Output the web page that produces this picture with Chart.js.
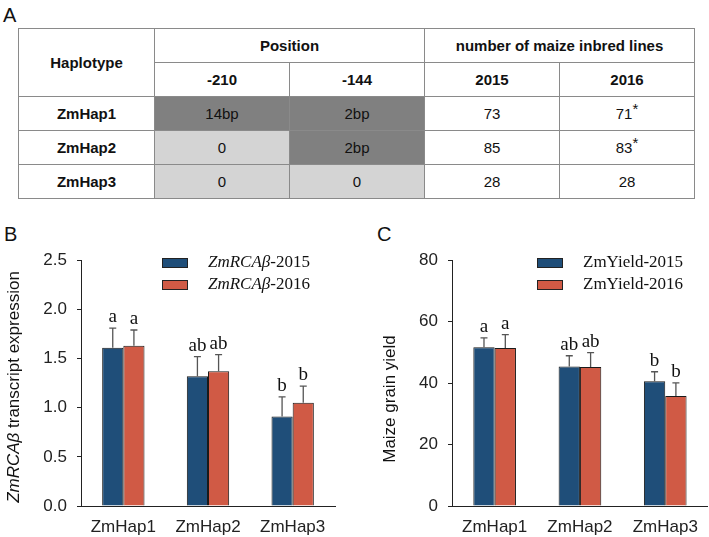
<!DOCTYPE html>
<html>
<head>
<meta charset="utf-8">
<script src="https://cdn.jsdelivr.net/npm/chart.js@4.4.0/dist/chart.umd.min.js"></script>
<style>
  body { margin: 0; background: #fff; width: 709px; height: 537px; position: relative; overflow: hidden;
         font-family: "Liberation Sans", Arial, sans-serif; color: #111; }
  .panel { position: absolute; font-size: 20px; line-height: 20px; }
  #tbl { position: absolute; left: 18px; top: 28px; border-collapse: collapse; table-layout: fixed; }
  #tbl td { border: 1px solid #8a8a8a; text-align: center; font-size: 15px; height: 33px; padding: 0; }
  #tbl td.b { font-weight: bold; }
  #tbl td.dark { background: #808080; }
  #tbl td.light { background: #d4d4d4; }
  #tbl sup { font-size: 15px; line-height: 0; vertical-align: 5px; }
  canvas { position: absolute; }
</style>
</head>
<body>
<div class="panel" style="left:3px;top:5px;">A</div>
<div class="panel" style="left:4px;top:224px;">B</div>
<div class="panel" style="left:377px;top:224px;">C</div>
<table id="tbl"></table>
<canvas id="exprChart" width="355" height="297" style="left:0;top:240px;width:355px;height:297px;"></canvas>
<canvas id="yieldChart" width="354" height="297" style="left:355px;top:240px;width:354px;height:297px;"></canvas>
<script>
// ---------- panel A table ----------
const haplotypes = ['ZmHap1', 'ZmHap2', 'ZmHap3'];
const pos210 = ['14bp', '0', '0'];
const pos144 = ['2bp', '2bp', '0'];
const lines2015 = ['73', '85', '28'];
const lines2016 = ['71', '83', '28'];
const star2016 = [true, true, false];

// ---------- panel B / C data ----------
const expr2015 = [1.61, 1.32, 0.91];
const exprErr2015 = [0.20, 0.20, 0.20];
const expr2016 = [1.63, 1.37, 1.05];
const exprErr2016 = [0.16, 0.17, 0.17];
const exprLetters2015 = ['a', 'ab', 'b'];
const exprLetters2016 = ['a', 'ab', 'b'];

const yield2015 = [51.7, 45.4, 40.6];
const yieldErr2015 = [3.0, 3.5, 3.1];
const yield2016 = [51.4, 45.2, 35.8];
const yieldErr2016 = [4.4, 4.7, 4.3];
const yieldLetters2015 = ['a', 'ab', 'b'];
const yieldLetters2016 = ['a', 'ab', 'b'];

const BLUE = '#1f4e79';
const RED = '#d05a45';

function buildTable() {
  const t = document.getElementById('tbl');
  let html = '<colgroup><col style="width:136px"><col style="width:135px"><col style="width:135px"><col style="width:135px"><col style="width:135px"></colgroup>';
  html += '<tr><td class="b" rowspan="2">Haplotype</td><td class="b" colspan="2">Position</td><td class="b" colspan="2">number of maize inbred lines</td></tr>';
  html += '<tr><td class="b">-210</td><td class="b">-144</td><td class="b">2015</td><td class="b">2016</td></tr>';
  haplotypes.forEach((h, i) => {
    const c1 = pos210[i] === '0' ? 'light' : 'dark';
    const c2 = pos144[i] === '0' ? 'light' : 'dark';
    html += '<tr><td class="b">' + h + '</td><td class="' + c1 + '">' + pos210[i] + '</td><td class="' + c2 + '">' + pos144[i] +
      '</td><td>' + lines2015[i] + '</td><td>' + lines2016[i] + (star2016[i] ? '<sup>*</sup>' : '') + '</td></tr>';
  });
  t.innerHTML = html;
}
buildTable();

// error bars, letters, legend and mixed-style y title
const decorPlugin = {
  id: 'decor',
  afterDatasetsDraw(chart, args, opts) {
    const ctx = chart.ctx;
    const y = chart.scales.y;
    ctx.save();
    chart.data.datasets.forEach((ds, di) => {
      const meta = chart.getDatasetMeta(di);
      meta.data.forEach((bar, i) => {
        const top = y.getPixelForValue(ds.data[i]);
        const errTop = y.getPixelForValue(ds.data[i] + ds.errors[i]);
        ctx.strokeStyle = '#555';
        ctx.lineWidth = 1.3;
        ctx.beginPath();
        ctx.moveTo(bar.x, top);
        ctx.lineTo(bar.x, errTop);
        ctx.moveTo(bar.x - 3.5, errTop);
        ctx.lineTo(bar.x + 3.5, errTop);
        ctx.stroke();
        ctx.fillStyle = '#111';
        ctx.font = '19px "Liberation Serif", "Times New Roman", serif';
        ctx.textAlign = 'center';
        ctx.textBaseline = 'alphabetic';
        ctx.fillText(ds.letters[i], bar.x, errTop - 6);
      });
    });
    ctx.restore();
  },
  afterDraw(chart, args, opts) {
    const ctx = chart.ctx;
    ctx.save();
    // legend
    chart.data.datasets.forEach((ds, di) => {
      const sy = opts.legendY[di];
      ctx.fillStyle = ds.backgroundColor;
      ctx.fillRect(opts.legendX, sy, 26, 10);
      ctx.strokeStyle = '#222';
      ctx.lineWidth = 1;
      ctx.strokeRect(opts.legendX + 0.5, sy + 0.5, 25, 9);
      let x = opts.textX;
      ctx.fillStyle = '#111';
      ctx.textBaseline = 'middle';
      ctx.textAlign = 'left';
      ds.legendParts.forEach(p => {
        ctx.font = (p.italic ? 'italic ' : '') + '17px "Liberation Serif", "Times New Roman", serif';
        ctx.fillText(p.text, x, sy + 5);
        x += ctx.measureText(p.text).width;
      });
    });
    // y title
    ctx.translate(opts.titleX, opts.titleY);
    ctx.rotate(-Math.PI / 2);
    ctx.fillStyle = '#111';
    ctx.textBaseline = 'middle';
    ctx.textAlign = 'left';
    let total = 0;
    opts.titleParts.forEach(p => {
      ctx.font = (p.italic ? 'italic ' : '') + '17px "Liberation Sans", Arial, sans-serif';
      total += ctx.measureText(p.text).width;
    });
    let tx = -total / 2;
    opts.titleParts.forEach(p => {
      ctx.font = (p.italic ? 'italic ' : '') + '17px "Liberation Sans", Arial, sans-serif';
      ctx.fillText(p.text, tx, 0);
      tx += ctx.measureText(p.text).width;
    });
    ctx.restore();
  }
};

function makeChart(id, cfg) {
  const tickFont = { family: '"Liberation Sans", Arial, sans-serif', size: 17 };
  return new Chart(document.getElementById(id), {
    type: 'bar',
    data: {
      labels: haplotypes,
      datasets: [
        {
          data: cfg.s1, errors: cfg.e1, letters: cfg.l1, legendParts: cfg.leg1,
          backgroundColor: BLUE, borderColor: '#1a1a1a', borderWidth: 1,
          categoryPercentage: 0.5, barPercentage: 1.0
        },
        {
          data: cfg.s2, errors: cfg.e2, letters: cfg.l2, legendParts: cfg.leg2,
          backgroundColor: RED, borderColor: '#1a1a1a', borderWidth: 1,
          categoryPercentage: 0.5, barPercentage: 1.0
        }
      ]
    },
    options: {
      responsive: false,
      animation: false,
      layout: { padding: { top: cfg.padTop, right: cfg.padRight, left: 0, bottom: 0 } },
      plugins: {
        legend: { display: false },
        tooltip: { enabled: false },
        decor: cfg.decor
      },
      scales: {
        x: {
          grid: { display: false, drawTicks: false },
          border: { display: true, color: '#222', width: 1 },
          ticks: { color: '#222', font: tickFont, padding: 11 },
          afterFit: s => { s.height = 31; }
        },
        y: {
          min: cfg.min, max: cfg.max,
          grid: { drawOnChartArea: false, drawTicks: true, tickLength: 4, color: '#222' },
          border: { display: true, color: '#222', width: 1 },
          ticks: { stepSize: cfg.step, color: '#222', font: tickFont, padding: 10, callback: cfg.fmt },
          afterFit: s => { s.width = cfg.yWidth; }
        }
      }
    },
    plugins: [decorPlugin]
  });
}

makeChart('exprChart', {
  s1: expr2015, e1: exprErr2015, l1: exprLetters2015,
  s2: expr2016, e2: exprErr2016, l2: exprLetters2016,
  leg1: [{ text: 'ZmRCAβ', italic: true }, { text: '-2015', italic: false }],
  leg2: [{ text: 'ZmRCAβ', italic: true }, { text: '-2016', italic: false }],
  min: 0, max: 2.5, step: 0.5, fmt: v => v.toFixed(1),
  yWidth: 81, padTop: 12, padRight: 20,
  decor: {
    legendX: 162, legendY: [18, 40], textX: 208,
    titleX: 14, titleY: 147,
    titleParts: [{ text: 'ZmRCAβ', italic: true }, { text: ' transcript expression', italic: false }]
  }
});

makeChart('yieldChart', {
  s1: yield2015, e1: yieldErr2015, l1: yieldLetters2015,
  s2: yield2016, e2: yieldErr2016, l2: yieldLetters2016,
  leg1: [{ text: 'ZmYield-2015', italic: false }],
  leg2: [{ text: 'ZmYield-2016', italic: false }],
  min: 0, max: 80, step: 20, fmt: v => String(v),
  yWidth: 97, padTop: 16, padRight: 1,
  decor: {
    legendX: 182, legendY: [18, 40], textX: 228,
    titleX: 35, titleY: 159,
    titleParts: [{ text: 'Maize grain yield', italic: false }]
  }
});
</script>
</body>
</html>
